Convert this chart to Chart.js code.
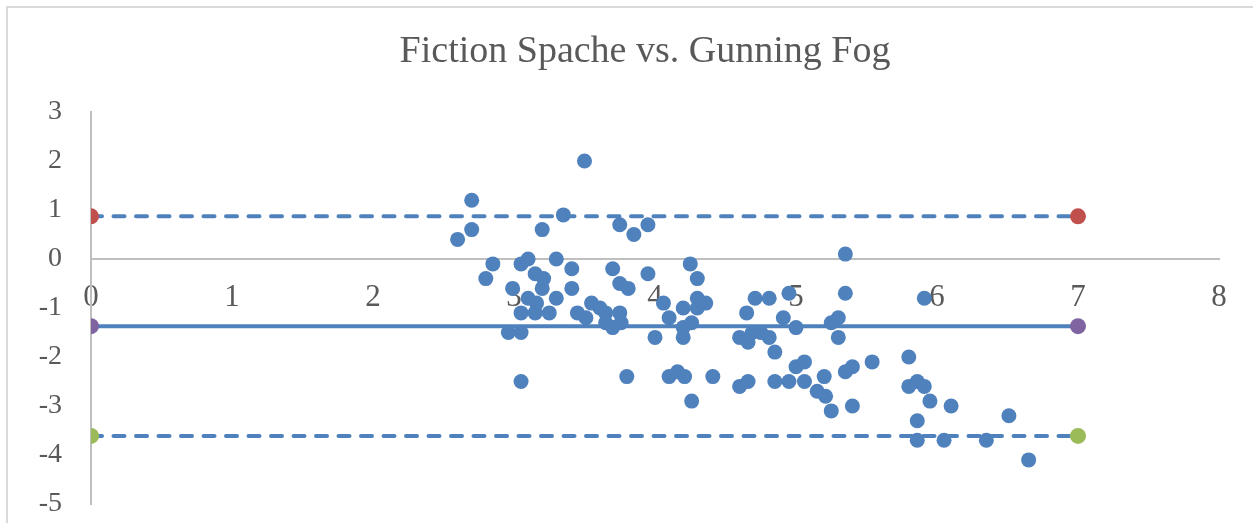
<!DOCTYPE html>
<html>
<head>
<meta charset="utf-8">
<title>Fiction Spache vs. Gunning Fog</title>
<script src="https://cdn.jsdelivr.net/npm/chart.js"></script>
<style>
    body, html { margin: 0; padding: 0; background: #fff; overflow: hidden; }
    #wrap { position: relative; width: 1253px; height: 523px; }
    #myChart { display: block; width: 1253px; height: 523px; }
    #frame {
        position: absolute; left: 6px; top: 6px; width: 1300px; height: 600px;
        border: 2px solid #d9d9d9; pointer-events: none;
    }
    #title {
        position: absolute; left: 0; top: 30px; width: 1290px; text-align: center;
        font-family: 'Liberation Serif', 'Times New Roman', serif;
        font-size: 38px; line-height: 38px; color: #595959;
    }
</style>
</head>
<body>
<div id="wrap">
    <canvas id="myChart" width="1253" height="523"></canvas>
    <div id="title">Fiction Spache vs. Gunning Fog</div>
    <div id="frame"></div>
</div>
<script>
    // mean of the two scores (x) and their difference (y)
    const meanScores = [
        3.50, 2.70, 2.70, 2.60, 3.35, 3.20, 2.85, 2.80, 3.05, 3.10,
        3.30, 3.41, 3.15, 3.21, 3.20, 3.41, 2.99, 3.30, 3.10, 3.16,
        3.05, 3.15, 3.25, 2.96, 3.05, 3.05, 3.45, 3.51, 3.55, 3.75,
        3.85, 3.95, 3.70, 3.95, 3.75, 3.81, 4.25, 4.30, 3.61, 3.65,
        3.75, 3.65, 3.70, 3.76, 4.06, 4.10, 4.20, 4.30, 4.36, 4.26,
        4.20, 4.20, 4.00, 3.80, 4.10, 4.16, 4.21, 4.41, 4.26, 4.30,
        4.71, 4.81, 4.95, 5.35, 4.65, 4.91, 5.00, 5.30, 5.25, 5.30,
        4.60, 4.66, 4.69, 4.75, 4.81, 4.85, 5.00, 5.06, 5.40, 5.35,
        5.54, 4.60, 4.66, 4.85, 4.95, 5.06, 5.20, 5.15, 5.21, 5.25,
        5.40, 5.35, 5.91, 5.80, 5.80, 5.86, 5.91, 5.95, 6.10, 5.86,
        5.86, 6.05, 6.35, 6.51, 6.65
    ];
    const diffScores = [
        2.0, 1.2, 0.6, 0.4, 0.9, 0.6, -0.1, -0.4, -0.1, 0.0,
        0.0, -0.2, -0.3, -0.4, -0.6, -0.6, -0.6, -0.8, -0.8, -0.9,
        -1.1, -1.1, -1.1, -1.5, -1.5, -2.5, -1.1, -1.2, -0.9, 0.7,
        0.5, 0.7, -0.2, -0.3, -0.5, -0.6, -0.1, -0.4, -1.0, -1.1,
        -1.1, -1.3, -1.4, -1.3, -0.9, -1.2, -1.0, -0.8, -0.9, -1.3,
        -1.4, -1.6, -1.6, -2.4, -2.4, -2.3, -2.4, -2.4, -2.9, -1.0,
        -0.8, -0.8, -0.7, -0.7, -1.1, -1.2, -1.4, -1.2, -1.3, -1.6,
        -1.6, -1.7, -1.5, -1.5, -1.6, -1.9, -2.2, -2.1, -2.2, -2.3,
        -2.1, -2.6, -2.5, -2.5, -2.5, -2.5, -2.4, -2.7, -2.8, -3.1,
        -3.0, 0.1, -0.8, -2.0, -2.6, -2.5, -2.6, -2.9, -3.0, -3.3,
        -3.7, -3.7, -3.7, -3.2, -4.1
    ];

    // limits of agreement and mean difference
    const lineX = [0, 7];
    const upperLimit = 0.87;
    const meanDiff = -1.37;
    const lowerLimit = -3.61;

    const xTicks = [0, 1, 2, 3, 4, 5, 6, 7, 8];
    const yTicks = [-5, -4, -3, -2, -1, 0, 1, 2, 3];

    const blue = "#4f81bd";
    const serif = "'Liberation Serif', 'Times New Roman', serif";

    const points = meanScores.map((x, i) => ({ x: x, y: diffScores[i] }));
    const lineData = (v) => lineX.map(x => ({ x: x, y: v }));

    function limitLine(label, v, markerColor, dashed) {
        return {
            label: label,
            data: lineData(v),
            showLine: true,
            borderColor: blue,
            borderWidth: 4,
            borderDash: dashed ? [11, 11.5] : [],
            borderCapStyle: "round",
            pointRadius: 8,
            pointBorderWidth: 0,
            pointBackgroundColor: markerColor,
            pointBorderColor: markerColor,
        };
    }

    const ctx = document.getElementById("myChart").getContext("2d");
    new Chart(ctx, {
        type: "scatter",
        data: {
            datasets: [
                limitLine("Upper", upperLimit, "#c0504d", true),
                limitLine("Mean", meanDiff, "#8064a2", false),
                limitLine("Lower", lowerLimit, "#9bbb59", true),
                {
                    label: "Difference",
                    data: points,
                    pointRadius: 7.5,
                    pointBorderWidth: 0,
                    pointBackgroundColor: blue,
                    pointBorderColor: blue,
                },
            ],
        },
        options: {
            responsive: false,
            maintainAspectRatio: false,
            animation: false,
            layout: { padding: { left: 0, right: 34, top: 112, bottom: 19 } },
            plugins: {
                legend: { display: false },
                tooltip: { enabled: false },
                title: { display: false },
            },
            scales: {
                x: {
                    type: "linear",
                    position: { y: 0 },
                    min: 0,
                    max: 8,
                    afterBuildTicks: (s) => { s.ticks = xTicks.map(v => ({ value: v })); },
                    afterFit: (s) => { s.height = 0; },
                    grid: { display: false, drawTicks: false },
                    border: { display: true, color: "#bfbfbf", width: 2 },
                    ticks: {
                        color: "#595959",
                        padding: 20,
                        font: { family: serif, size: 31 },
                        maxRotation: 0,
                        autoSkip: false,
                    },
                },
                y: {
                    type: "linear",
                    min: -5,
                    max: 3,
                    afterBuildTicks: (s) => { s.ticks = yTicks.map(v => ({ value: v })); },
                    // fixed axis width; the big tick padding must not push the plot edges in
                    afterFit: (s) => { s.width = 91; s.paddingTop = 0; s.paddingBottom = 0; },
                    grid: { display: false, drawTicks: false },
                    border: { display: true, color: "#bfbfbf", width: 2 },
                    ticks: {
                        color: "#595959",
                        padding: 29,
                        font: { family: serif, size: 28 },
                        autoSkip: false,
                    },
                },
            },
        },
    });
</script>
</body>
</html>
